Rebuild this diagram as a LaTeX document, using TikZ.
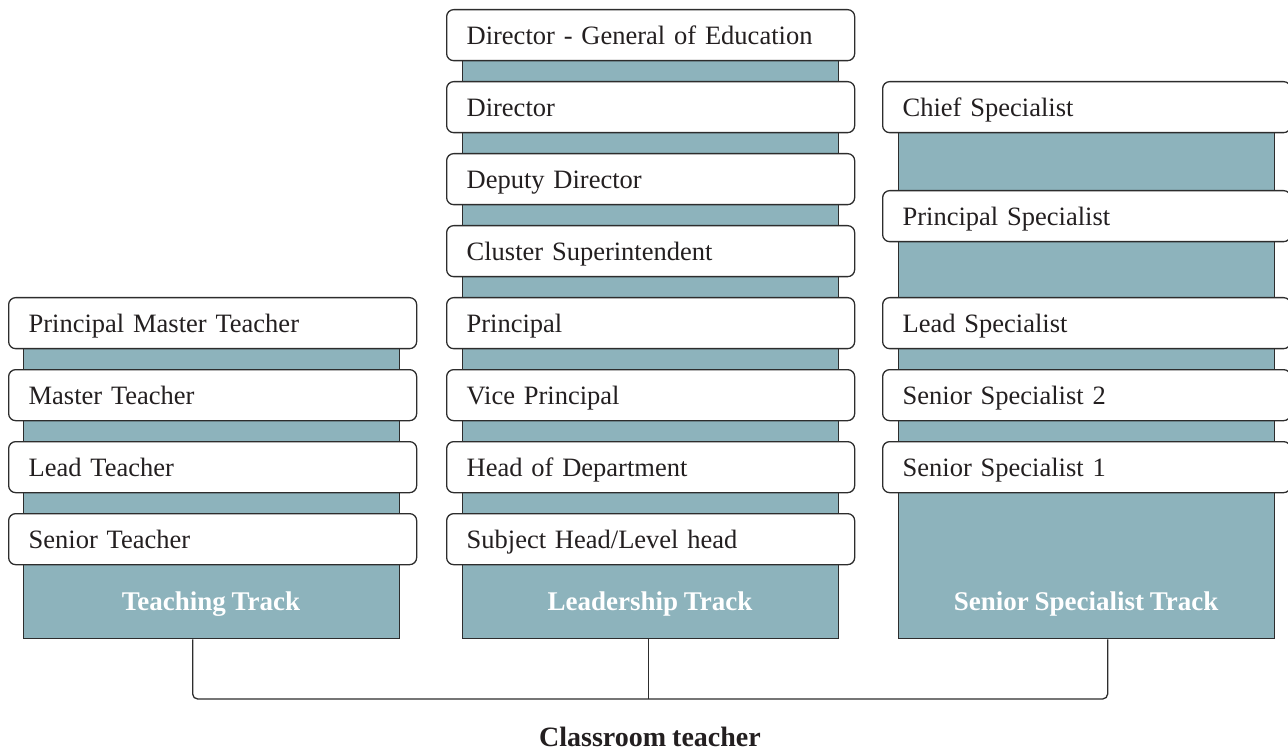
\documentclass[tikz,border=0pt]{standalone}
\usepackage{fontspec}
\setmainfont[WordSpace=0.85]{Liberation Serif}
\definecolor{barfill}{RGB}{141,179,188}
\definecolor{linec}{RGB}{45,45,45}
\definecolor{txt}{RGB}{35,31,32}
\begin{document}
\begin{tikzpicture}[x=1pt,y=-1pt,
  rolebox/.style={draw=linec, line width=1.3pt, fill=white, rounded corners=7pt,
    minimum width=408pt, minimum height=51pt, text width=368pt, inner xsep=20pt,
    text height=19pt, text depth=1pt,
    align=left, anchor=north west, font=\fontsize{26.5}{30}\selectfont, text=txt},
  trackbar/.style={draw=linec, line width=1.3pt, fill=barfill, anchor=north west,
    minimum width=376pt, inner sep=0pt},
  tracklabel/.style={font=\fontsize{27}{30}\selectfont\bfseries, text=white},
  conn/.style={draw=linec, line width=1.3pt, rounded corners=5pt}]
\useasboundingbox (0,0) rectangle (1288,751);
% bars
\node[trackbar, minimum height=318pt] (tt) at (23,320) {};
\node[trackbar, minimum height=604pt] (lt) at (462,34) {};
\node[trackbar, minimum height=532pt] (st) at (898,106) {};
% teaching
\node[rolebox] (t1) at (8,297) {Principal Master Teacher};
\node[rolebox] (t2) at (8,369) {Master Teacher};
\node[rolebox] (t3) at (8,441) {Lead Teacher};
\node[rolebox] (t4) at (8,513) {Senior Teacher};
% leadership
\node[rolebox] (l1) at (446,9) {Director - General of Education};
\node[rolebox] (l2) at (446,81) {Director};
\node[rolebox] (l3) at (446,153) {Deputy Director};
\node[rolebox] (l4) at (446,225) {Cluster Superintendent};
\node[rolebox] (l5) at (446,297) {Principal};
\node[rolebox] (l6) at (446,369) {Vice Principal};
\node[rolebox] (l7) at (446,441) {Head of Department};
\node[rolebox] (l8) at (446,513) {Subject Head/Level head};
% specialist
\node[rolebox] (s1) at (882,81) {Chief Specialist};
\node[rolebox] (s2) at (882,190) {Principal Specialist};
\node[rolebox] (s3) at (882,297) {Lead Specialist};
\node[rolebox] (s4) at (882,369) {Senior Specialist 2};
\node[rolebox] (s5) at (882,441) {Senior Specialist 1};
% track labels
\node[tracklabel] (ttl) at (211,604) {Teaching Track};
\node[tracklabel] (ltl) at (650,604) {Leadership Track};
\node[tracklabel] (stl) at (1086,604) {Senior Specialist Track};
% connectors
\coordinate (ta) at ([xshift=-19pt]tt.south);
\coordinate (la) at ([xshift=-2pt]lt.south);
\coordinate (sa) at ([xshift=21pt]st.south);
\coordinate (hub) at (la |- 0,699);
\draw[conn] (ta) |- (hub) -| (sa);
\draw[conn] (la) -- (hub);
\node[font=\fontsize{28}{32}\selectfont\bfseries, text=txt] (cls) at (650,737) {Classroom teacher};
\end{tikzpicture}
\end{document}
